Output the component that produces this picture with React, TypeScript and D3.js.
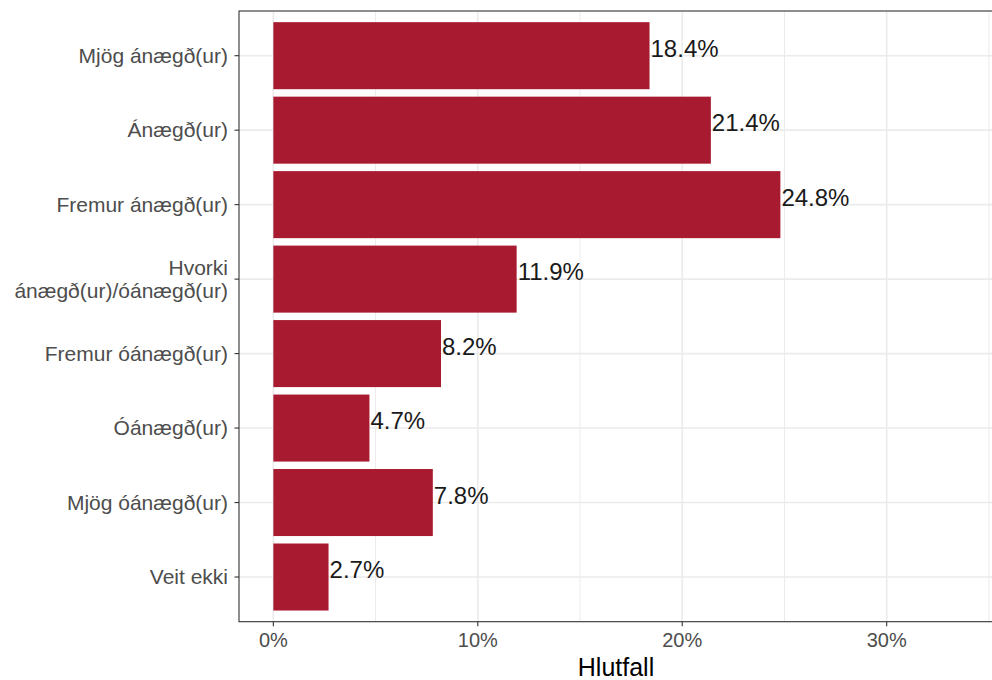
import React from "react";
import * as d3 from "d3";

const categories = [
  "Mjög ánægð(ur)",
  "Ánægð(ur)",
  "Fremur ánægð(ur)",
  "Hvorki ánægð(ur)/óánægð(ur)",
  "Fremur óánægð(ur)",
  "Óánægð(ur)",
  "Mjög óánægð(ur)",
  "Veit ekki",
];
const categoryLines: string[][] = [
  ["Mjög ánægð(ur)"],
  ["Ánægð(ur)"],
  ["Fremur ánægð(ur)"],
  ["Hvorki", "ánægð(ur)/óánægð(ur)"],
  ["Fremur óánægð(ur)"],
  ["Óánægð(ur)"],
  ["Mjög óánægð(ur)"],
  ["Veit ekki"],
];
const values = [0.184, 0.214, 0.248, 0.119, 0.082, 0.047, 0.078, 0.027];
const labels = ["18.4%", "21.4%", "24.8%", "11.9%", "8.2%", "4.7%", "7.8%", "2.7%"];
const majorTicks = [0, 0.1, 0.2, 0.3];
const minorTicks = [0.05, 0.15, 0.25, 0.35];
const xTitle = "Hlutfall";

const W = 992;
const H = 680;
const L = 239;
const R = 993;
const T = 11;
const B = 621.7;
const FONT = "'Liberation Sans', Arial, Helvetica, sans-serif";

export default function App() {
  const x = d3.scaleLinear().domain([-0.0168, 0.352]).range([L, R]);
  const step = (B - T) / (categories.length - 1 + 1.2);
  const yc = (i: number) => T + (0.6 + i) * step;
  const barH = step * 0.9;
  const fmt = d3.format(".0%");

  return (
    <svg
      width={W}
      height={H}
      style={{ position: "absolute", left: 0, top: 0, background: "#fff" }}
      fontFamily={FONT}
    >
      <rect x={0} y={0} width={W} height={H} fill="#fff" />
      <defs>
        <clipPath id="panel">
          <rect x={L} y={T} width={R - L} height={B - T} />
        </clipPath>
      </defs>
      <g clipPath="url(#panel)">
        {minorTicks.map((t) => (
          <line key={"mn" + t} x1={x(t)} x2={x(t)} y1={T} y2={B} stroke="#EBEBEB" strokeWidth={1} />
        ))}
        {majorTicks.map((t) => (
          <line key={"mj" + t} x1={x(t)} x2={x(t)} y1={T} y2={B} stroke="#EBEBEB" strokeWidth={1.6} />
        ))}
        {categories.map((c, i) => (
          <line key={"h" + c} x1={L} x2={R} y1={yc(i)} y2={yc(i)} stroke="#EBEBEB" strokeWidth={1.6} />
        ))}
        {categories.map((c, i) => (
          <rect
            key={"b" + c}
            x={x(0)}
            y={yc(i) - barH / 2}
            width={x(values[i]) - x(0)}
            height={barH}
            fill="#A81A2F"
          />
        ))}
        {categories.map((c, i) => (
          <text
            key={"l" + c}
            x={x(values[i]) + 1}
            y={yc(i) + 1}
            fontSize={24}
            fill="#1a1a1a"
          >
            {labels[i]}
          </text>
        ))}
      </g>
      <rect x={L} y={T} width={R - L} height={B - T} fill="none" stroke="#333" strokeWidth={1.1} />
      {categories.map((c, i) => (
        <g key={"yt" + c}>
          <line x1={L - 4.5} x2={L} y1={yc(i)} y2={yc(i)} stroke="#333" strokeWidth={1.1} />
          {categoryLines[i].length === 1 ? (
            <text x={L - 11} y={yc(i) + 7.3} textAnchor="end" fontSize={21} fill="#4D4D4D">
              {categoryLines[i][0]}
            </text>
          ) : (
            categoryLines[i].map((ln, k) => (
              <text
                key={ln}
                x={L - 11}
                y={yc(i) - 4.5 + k * 23.5}
                textAnchor="end"
                fontSize={21}
                fill="#4D4D4D"
              >
                {ln}
              </text>
            ))
          )}
        </g>
      ))}
      {majorTicks.map((t) => (
        <g key={"xt" + t}>
          <line x1={x(t)} x2={x(t)} y1={B} y2={B + 4.5} stroke="#333" strokeWidth={1.1} />
          <text x={x(t)} y={B + 25} textAnchor="middle" fontSize={20} fill="#4D4D4D">
            {fmt(t)}
          </text>
        </g>
      ))}
      <text x={(L + R) / 2} y={676} textAnchor="middle" fontSize={25} fill="#000">
        {xTitle}
      </text>
    </svg>
  );
}
